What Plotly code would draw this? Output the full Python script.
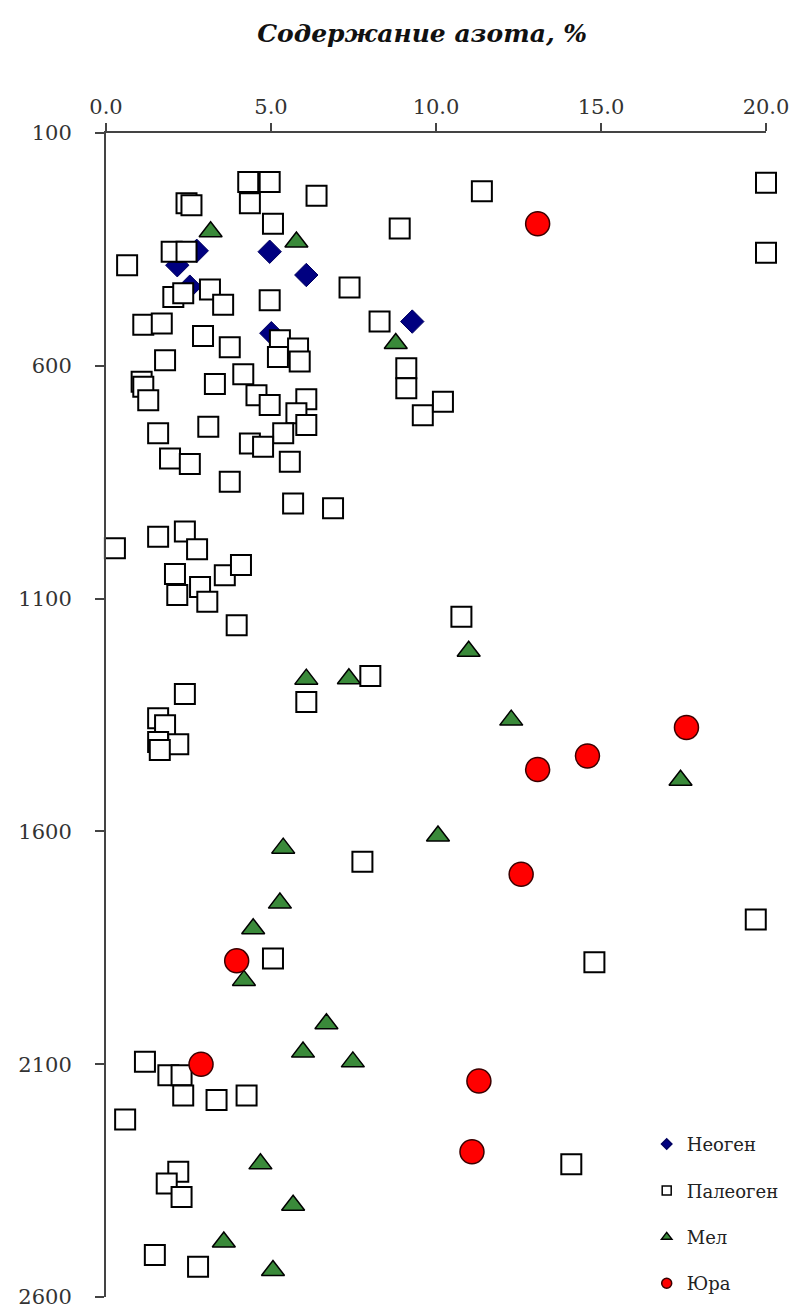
import plotly.graph_objects as go

# ---- data (nitrogen content %, depth m) ----
neogen_x = [2.75, 2.16, 4.96, 6.07, 9.28, 5.01, 2.54]
neogen_y = [353, 384, 355, 405, 505, 530, 430]

paleogen_x = [4.31, 4.96, 6.38, 4.36, 2.44, 2.59, 5.06, 8.90, 1.99, 2.44,
              0.64, 7.38, 3.15, 2.04, 2.34, 3.55, 4.96, 1.13, 1.69, 8.29,
              2.94, 3.75, 5.27, 5.82, 5.21, 5.87, 1.79, 9.10, 9.10, 1.08,
              1.13, 1.28, 3.30, 4.16, 4.56, 4.96, 6.07, 5.77, 6.07, 9.60,
              10.21, 1.58, 3.10, 5.37, 4.36, 4.76, 1.94, 2.54, 5.57, 3.75,
              5.67, 6.88, 11.39, 20.0, 20.0, 0.27, 1.58, 2.39, 2.76, 2.09,
              2.85, 2.16, 3.07, 3.60, 4.09, 3.96, 10.77, 8.01, 6.07, 2.39,
              1.58, 1.79, 1.58, 2.19, 1.63, 7.77, 5.06, 19.69, 14.80, 1.18,
              1.89, 2.29, 2.34, 3.35, 4.26, 0.58, 2.19, 1.84, 2.29, 1.48,
              2.79, 14.10]
paleogen_y = [205, 205, 235, 251, 251, 255, 295, 305, 355, 355,
              384, 432, 436, 452, 444, 469, 459, 512, 509, 505,
              536, 560, 545, 563, 581, 591, 588, 605, 648, 634,
              645, 674, 639, 618, 663, 684, 672, 702, 727, 706,
              677, 745, 731, 745, 767, 774, 799, 811, 806, 849,
              896, 906, 225, 207, 357, 992, 967, 956, 994, 1047,
              1075, 1092, 1107, 1050, 1028, 1157, 1139, 1266, 1322, 1305,
              1357, 1372, 1408, 1413, 1425, 1665, 1873, 1789, 1881, 2095,
              2124, 2124, 2167, 2177, 2167, 2219, 2331, 2356, 2385, 2510,
              2535, 2315]

mel_x = [3.17, 5.77, 8.78, 10.99, 6.07, 7.36, 12.28, 17.41, 10.06, 5.37,
         5.27, 4.46, 4.18, 6.68, 5.97, 7.48, 4.68, 5.67, 3.57, 5.06]
mel_y = [312, 334, 552, 1213, 1273, 1272, 1361, 1490, 1610, 1636,
         1754, 1809, 1920, 2013, 2074, 2095, 2314, 2403, 2482, 2543]

jura_x = [13.08, 17.59, 14.59, 13.08, 12.58, 3.96, 2.88, 11.30, 11.09]
jura_y = [295, 1377, 1438, 1467, 1692, 1878, 2100, 2136, 2288]

series_names = ["Неоген", "Палеоген", "Мел", "Юра"]
x_ticks = [0, 5, 10, 15, 20]
y_ticks = [100, 600, 1100, 1600, 2100, 2600]

title_text = "Содержание азота, %"

FONT = "DejaVu Serif, Liberation Serif, serif"

styles = {
    "Неоген": dict(symbol="diamond", size=18, color="#000080",
                   line=dict(color="#000060", width=1)),
    "Палеоген": dict(symbol="square", size=20, color="white",
                     line=dict(color="black", width=2)),
    "Мел": dict(symbol="triangle-up", size=20, color="#3a8a3a",
                line=dict(color="black", width=1.5)),
    "Юра": dict(symbol="circle", size=24, color="#ff0000",
                line=dict(color="#3a0000", width=1.5)),
}
legend_sizes = {"Неоген": 8, "Палеоген": 9, "Мел": 9, "Юра": 10}

data = {
    "Неоген": (neogen_x, neogen_y),
    "Палеоген": (paleogen_x, paleogen_y),
    "Мел": (mel_x, mel_y),
    "Юра": (jura_x, jura_y),
}

fig = go.Figure()
for name in series_names:
    xs, ys = data[name]
    fig.add_trace(go.Scatter(
        x=xs, y=ys, mode="markers", name=name, showlegend=False,
        marker=styles[name], cliponaxis=False, hoverinfo="x+y+name"))

# small legend markers
for name in series_names:
    st = dict(styles[name])
    st["size"] = legend_sizes[name]
    st["line"] = dict(color=st["line"]["color"], width=1.5)
    fig.add_trace(go.Scatter(
        x=[None], y=[None], mode="markers", name=name, legendgroup=name,
        marker=st, showlegend=True))

fig.update_layout(
    width=795, height=1314,
    margin=dict(l=106, r=28, t=133, b=17),
    plot_bgcolor="white", paper_bgcolor="white",
    font=dict(family=FONT, size=21, color="#333333"),
    title=dict(text="<b><i>" + title_text + "</i></b>",
               x=0.531, xanchor="center", y=0.975, yanchor="middle",
               font=dict(family=FONT, size=25, color="#111111")),
    showlegend=True,
    legend=dict(x=0.818, xanchor="left", y=0.147, yanchor="top",
                font=dict(family=FONT, size=18, color="#222222"),
                bgcolor="rgba(0,0,0,0)", tracegroupgap=20,
                traceorder="grouped", itemwidth=30),
    xaxis=dict(side="top", range=[0, 20], tickvals=x_ticks, tickformat=".1f",
               showgrid=False, zeroline=False, showline=True,
               linecolor="#444444", linewidth=2, ticks="outside",
               ticklen=8, tickwidth=2, tickcolor="#444444",
               ticklabelstandoff=1, automargin=False),
    yaxis=dict(range=[2600, 100], tickvals=y_ticks, showgrid=False,
               zeroline=False, showline=True, linecolor="#444444",
               linewidth=2, ticks="outside", ticklen=9, tickwidth=2,
               tickcolor="#444444", ticklabelstandoff=19, automargin=False),
)

fig.write_html("out.html", config={"displayModeBar": False},
               post_script="document.body.style.margin='0';")
